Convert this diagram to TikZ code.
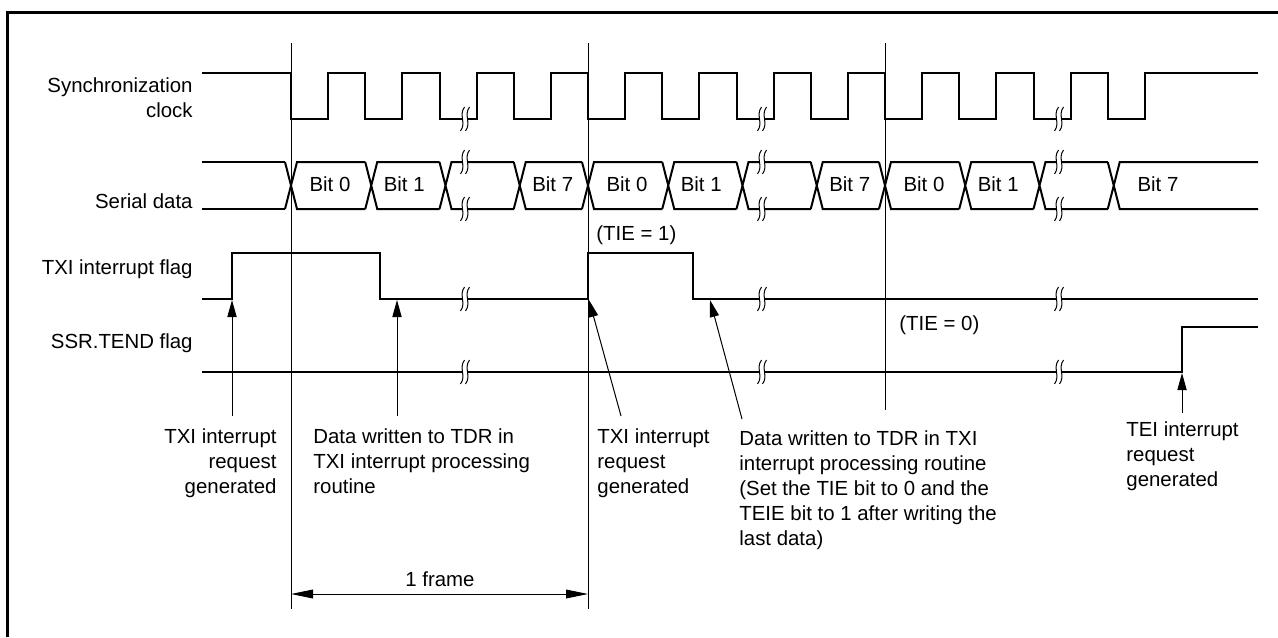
\documentclass[tikz,border=0pt]{standalone}
\usepackage{fontspec}
\setsansfont{Liberation Sans}
\usetikzlibrary{arrows.meta}

\tikzset{
  sig/.style={line width=1pt},
  guide/.style={line width=0.5pt},
  lbl/.style={font=\sffamily\fontsize{10.2}{12.5}\selectfont,inner sep=0pt},
  ptr/.style={line width=0.5pt,-{Triangle[length=8.5pt,width=4.6pt]}},
  dim/.style={line width=0.5pt,{Triangle[length=11pt,width=4.4pt]}-{Triangle[length=11pt,width=4.4pt]}},
  brk/.pic={
    \fill[white] (4.5,-12) .. controls (-1.5,-4) and (6.5,4) .. (0.5,12)
      -- (-4.5,12) .. controls (1.5,4) and (-6.5,-4) .. (-0.5,-12) -- cycle;
    \foreach \dx in {-2.5,2.5}
      \draw[line width=0.5pt] (\dx+2,-12) .. controls (\dx-4,-4) and (\dx+4,4) .. (\dx-2,12);
  }
}

\begin{document}
\begin{tikzpicture}[x=0.5pt,y=-0.5pt]
  \useasboundingbox (0,0) rectangle (1278,637);
  \draw[line width=1.5pt] (7,637) -- (7,12) -- (1278,12);

  % frame marks
  \foreach \x/\yb in {291/609,588/609,885/410}
    \draw[guide] (\x,43) -- (\x,\yb);

  % signal names
  \node[lbl,anchor=south east,align=right] (nclk) at (193,118) {Synchronization\\clock};
  \node[lbl,anchor=base east] (ndat) at (193,208) {Serial data};
  \node[lbl,anchor=base east] (ntxi) at (193,274) {TXI interrupt flag};
  \node[lbl,anchor=base east] (ntend) at (193,348) {SSR.TEND flag};

  % clock
  \draw[sig] (202,73) \foreach \n in {0,...,11}{
      -- ({291+74.25*\n},73) -- ++(0,46) -- ++(37.125,0) -- ++(0,-46)
    } -- (1258,73);

  % serial data
  \draw[sig] (202,162) -- (285,162) (202,209) -- (285,209);
  \foreach \n in {0,...,11}{
    \pgfmathsetmacro\xs{291+74.25*\n-ifthenelse(mod(\n,4)==0,6,0)}
    \pgfmathsetmacro\xe{ifthenelse(\n==11,1258,291+74.25*(\n+1)-ifthenelse(mod(\n+1,4)==0,6,0))}
    \draw[sig] (\xs,162) -- (\xs+12,209) -- (\xe,209)
               (\xs,209) -- (\xs+12,162) -- (\xe,162);
  }
  \foreach \n/\t in {0/Bit 0,1/Bit 1,3/Bit 7,4/Bit 0,5/Bit 1,7/Bit 7,8/Bit 0,9/Bit 1}
    \node[lbl] (bit\n) at ({291+74.25*\n+39},184) {\t};
  \node[lbl] (bit11) at (1158,184) {Bit 7};

  % flags
  \draw[sig] (202,299) -| (232,253) -| (380,299) -| (588,253) -| (693,299) -- (1258,299);
  \draw[sig] (202,372) -| (1182,327) -- (1258,327);
  \node[lbl,anchor=base west] (tie1) at (596,240) {(TIE = 1)};
  \node[lbl,anchor=base west] (tie0) at (899,330) {(TIE = 0)};

  % breaks
  \foreach \x in {465,762,1059}
    \foreach \y in {119,162,209,299,372}
      \pic at (\x,\y) {brk};

  % notes
  \node[lbl,anchor=north east,align=right] (req1) at (277,428) {TXI interrupt\\request\\generated};
  \node[lbl,anchor=north west,align=left] (wr1) at (313,428) {Data written to TDR in\\TXI interrupt processing\\routine};
  \node[lbl,anchor=north west,align=left] (req2) at (597,428) {TXI interrupt\\request\\generated};
  \node[lbl,anchor=north west,align=left] (wr2) at (739,430) {Data written to TDR in TXI\\interrupt processing routine\\(Set the TIE bit to 0 and the\\TEIE bit to 1 after writing the\\last data)};
  \node[lbl,anchor=north west,align=left] (teireq) at (1126,421) {TEI interrupt\\request\\generated};

  \coordinate (p1) at (232,416);  \coordinate (h1) at (232,300);
  \coordinate (p2) at (397,416);  \coordinate (h2) at (397,300);
  \coordinate (p3) at (621,416);  \coordinate (h3) at (589,300);
  \coordinate (p4) at (742,419);  \coordinate (h4) at (710,300);
  \coordinate (p5) at (1182,413); \coordinate (h5) at (1182,373);
  \foreach \i in {1,...,5}
    \draw[ptr] (p\i) -- (h\i);

  % 1 frame
  \coordinate (fl) at (291,594);
  \coordinate (fr) at (588,594);
  \draw[dim] (fl) -- (fr);
  \node[lbl] (frm) at (440,579) {1 frame};
\end{tikzpicture}
\end{document}
